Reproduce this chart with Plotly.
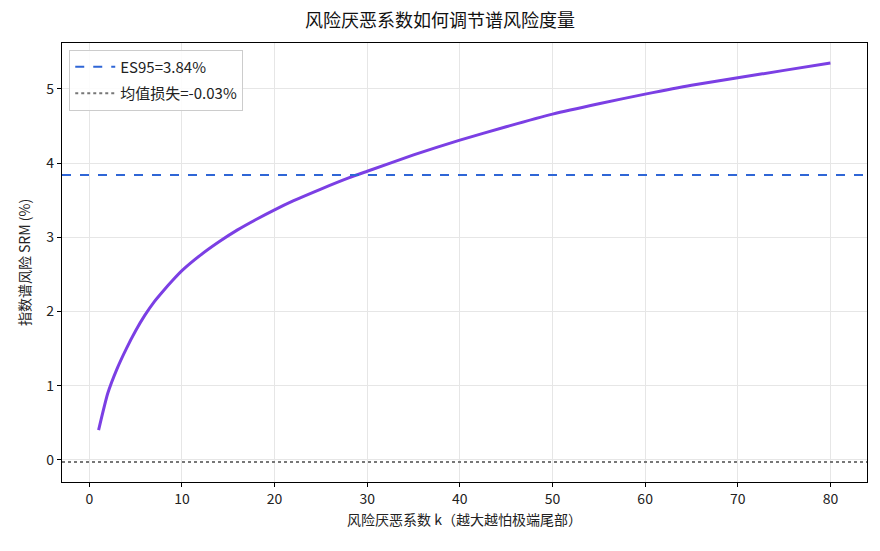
import plotly.graph_objects as go

# Data
k_values = [1, 2, 3, 4, 5, 6, 7, 8, 9, 10, 12, 14, 16, 18, 20, 22, 25, 28, 30,
            35, 40, 45, 50, 55, 60, 65, 70, 75, 80]
srm_values = [0.40, 0.90, 1.23, 1.50, 1.74, 1.95, 2.13, 2.28, 2.42, 2.55, 2.76, 2.94,
              3.10, 3.24, 3.37, 3.49, 3.65, 3.80, 3.89, 4.11, 4.31, 4.49, 4.66, 4.80,
              4.93, 5.05, 5.15, 5.25, 5.35]
es95 = 3.84
mean_loss = -0.03

title = "风险厌恶系数如何调节谱风险度量"
x_title = "风险厌恶系数 k（越大越怕极端尾部）"
y_title = "指数谱风险 SRM (%)"

FONT = "Noto Sans CJK SC, Noto Sans, sans-serif"

fig = go.Figure()
fig.add_trace(go.Scatter(x=k_values, y=srm_values, mode="lines",
                         line=dict(color="#7b3fe4", width=3, shape="spline", smoothing=0.6),
                         showlegend=False, hoverinfo="x+y"))

fig.add_hline(y=es95, line=dict(color="#2f66d6", width=2, dash="dash"),
              showlegend=True, name=f"ES95={es95:.2f}%", legendgroup="a")
fig.add_hline(y=mean_loss, line=dict(color="#777777", width=2, dash="dot"),
              showlegend=True, name=f"均值损失={mean_loss:.2f}%", legendgroup="b")

fig.update_layout(
    width=880, height=551,
    margin=dict(l=62, r=13, t=43, b=69),
    paper_bgcolor="white", plot_bgcolor="white",
    font=dict(family=FONT, size=14, color="#222222"),
    title=dict(text=title, x=0.5, xanchor="center", y=0.962, yanchor="middle",
               font=dict(size=18, color="#111111")),
    legend=dict(x=0.009, y=0.985, xanchor="left", yanchor="top",
                bgcolor="rgba(255,255,255,0.85)", bordercolor="#cccccc", borderwidth=1,
                font=dict(size=15), itemwidth=40, tracegroupgap=4, traceorder="grouped"),
    showlegend=True,
)
fig.update_xaxes(range=[-2.95, 83.95], tickvals=[0, 10, 20, 30, 40, 50, 60, 70, 80],
                 showgrid=True, gridcolor="#e6e6e6", gridwidth=1,
                 showline=True, linecolor="black", linewidth=1.2, mirror=True,
                 ticks="outside", ticklen=4, tickcolor="black",
                 zeroline=False, title=dict(text=x_title, font=dict(size=14), standoff=8))
fig.update_yaxes(range=[-0.299, 5.619], tickvals=[0, 1, 2, 3, 4, 5],
                 showgrid=True, gridcolor="#e6e6e6", gridwidth=1,
                 showline=True, linecolor="black", linewidth=1.2, mirror=True,
                 ticks="outside", ticklen=4, tickcolor="black",
                 zeroline=False, title=dict(text=y_title, font=dict(size=14), standoff=12))

fig.write_html("out.html")
